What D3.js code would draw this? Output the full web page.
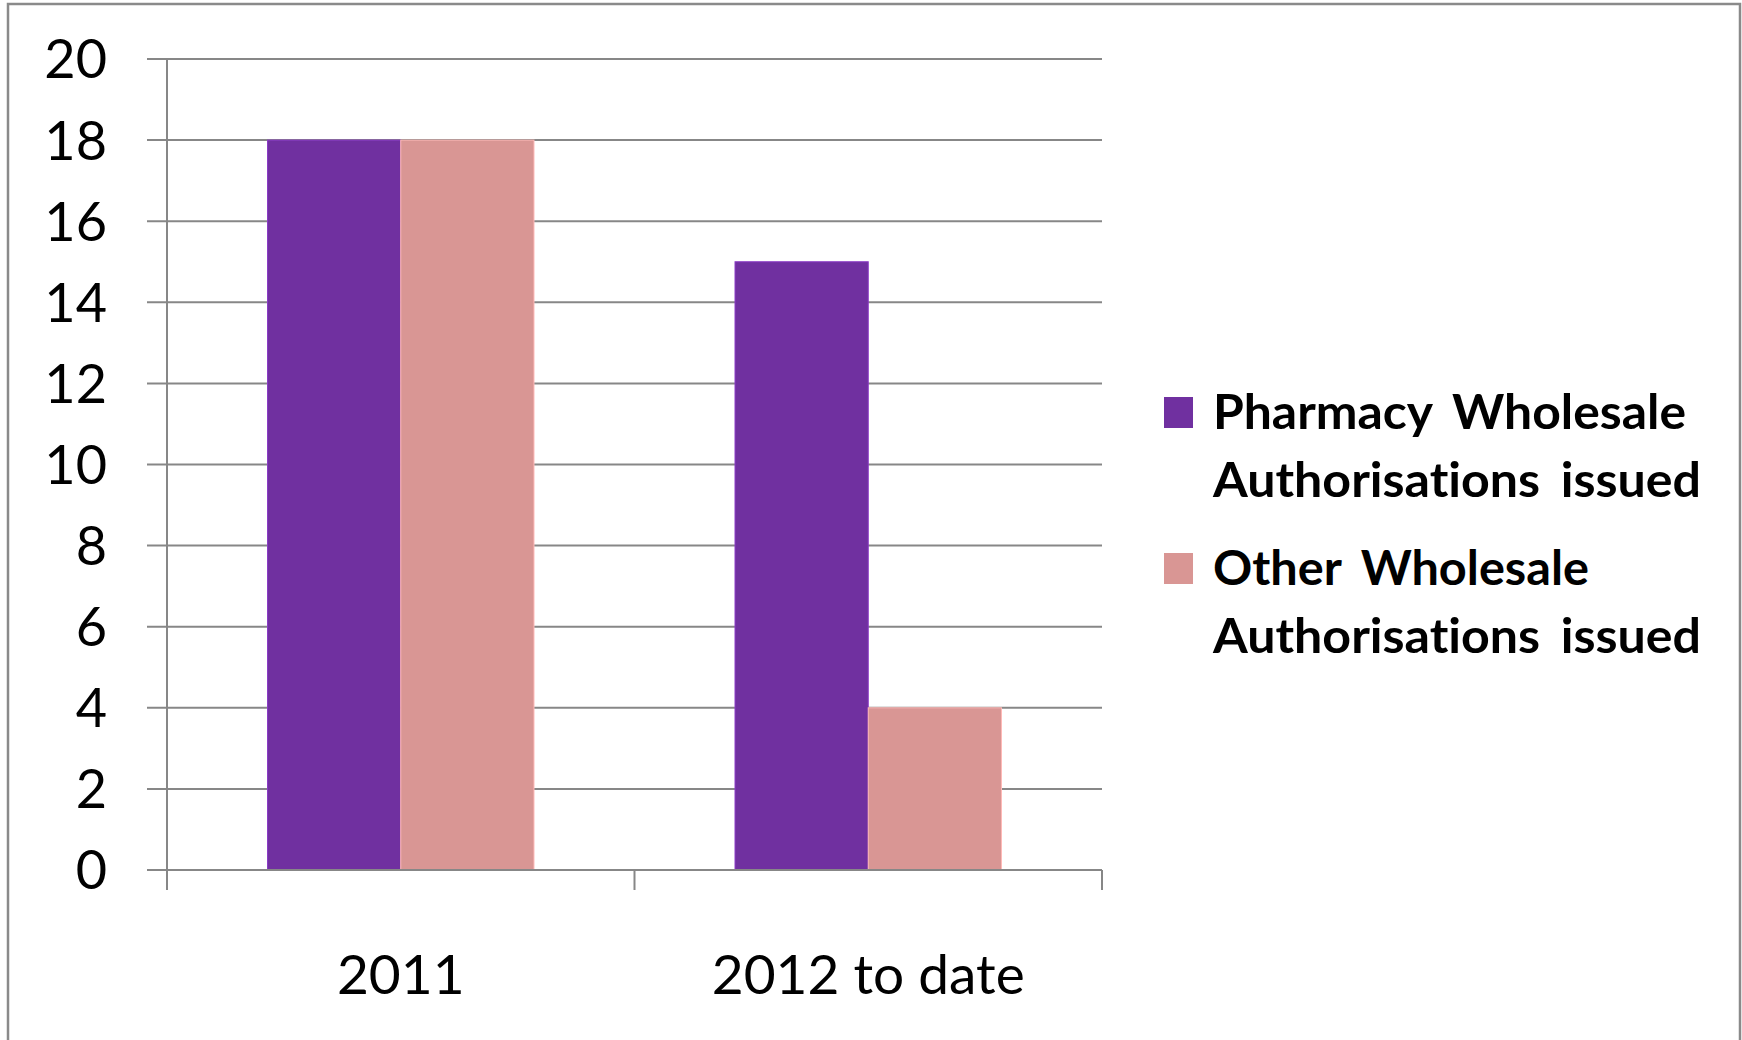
<!DOCTYPE html>
<html>
<head>
<meta charset="utf-8">
<script src="https://cdn.jsdelivr.net/npm/d3@7"></script>
<style>
  html, body { margin: 0; padding: 0; background: #ffffff; }
  svg { display: block; }
  text { font-variant-ligatures: none; font-feature-settings: "liga" 0, "clig" 0; }
</style>
</head>
<body>
<svg id="chart" width="1742" height="1040"></svg>
<script>
// Chart data
const categories = ["2011", "2012 to date"];
const seriesNames = ["Pharmacy Wholesale Authorisations issued", "Other Wholesale Authorisations issued"];
const legendLines = [["Pharmacy Wholesale", "Authorisations issued"], ["Other Wholesale", "Authorisations issued"]];
const pharmacyValues = [18, 15];
const otherValues = [18, 4];
const yTicks = [0, 2, 4, 6, 8, 10, 12, 14, 16, 18, 20];

const colors = ["#7030A0", "#D99694"];
const gridColor = "#878787";
const font = "Lato, 'Open Sans', sans-serif";

const svg = d3.select("#chart");

// Outer frame
svg.append("rect")
  .attr("x", 8).attr("y", 4)
  .attr("width", 1732).attr("height", 1060)
  .attr("fill", "#fff")
  .attr("stroke", "#8a8a8a").attr("stroke-width", 2.5);

const plot = { left: 167, right: 1102, top: 59, bottom: 870 };

const x = d3.scaleBand()
  .domain(categories)
  .range([plot.left, plot.right])
  .paddingInner(0.43)
  .paddingOuter(0.215);

const xSeries = d3.scaleBand()
  .domain(seriesNames)
  .range([0, x.bandwidth()]);

const y = d3.scaleLinear()
  .domain([0, 20])
  .range([plot.bottom, plot.top]);

// Horizontal gridlines with outward tick stubs
svg.append("g")
  .selectAll("line")
  .data(yTicks)
  .join("line")
  .attr("x1", plot.left - 20)
  .attr("x2", plot.right)
  .attr("y1", d => y(d))
  .attr("y2", d => y(d))
  .attr("stroke", gridColor)
  .attr("stroke-width", 2);

// Y tick labels
svg.append("g")
  .selectAll("text")
  .data(yTicks)
  .join("text")
  .attr("x", 107)
  .attr("y", d => y(d))
  .attr("dy", "0.36em")
  .attr("text-anchor", "end")
  .attr("font-family", font)
  .attr("font-size", 54)
  .attr("fill", "#000")
  .text(d => d);

// Bars
const data = categories.map((c, i) => ({ cat: c, values: [pharmacyValues[i], otherValues[i]] }));
const groups = svg.append("g")
  .selectAll("g")
  .data(data)
  .join("g")
  .attr("transform", d => `translate(${x(d.cat)},0)`);

groups.selectAll("rect")
  .data(d => d.values.map((v, j) => ({ v, name: seriesNames[j], j })))
  .join("rect")
  .attr("x", d => xSeries(d.name))
  .attr("y", d => y(d.v))
  .attr("width", xSeries.bandwidth())
  .attr("height", d => y(0) - y(d.v))
  .attr("fill", d => colors[d.j])
  .attr("stroke", d => d3.color(colors[d.j]).brighter(0.6))
  .attr("stroke-width", 1);

// Y axis line
svg.append("line")
  .attr("x1", plot.left).attr("x2", plot.left)
  .attr("y1", plot.top).attr("y2", plot.bottom + 20)
  .attr("stroke", gridColor).attr("stroke-width", 2);

// X axis line and category boundary ticks
svg.append("line")
  .attr("x1", plot.left - 20).attr("x2", plot.right)
  .attr("y1", plot.bottom).attr("y2", plot.bottom)
  .attr("stroke", gridColor).attr("stroke-width", 2);

const step = x.step();
const boundaries = d3.range(categories.length + 1).map(i => plot.left + i * step);
svg.append("g")
  .selectAll("line")
  .data(boundaries)
  .join("line")
  .attr("x1", d => d).attr("x2", d => d)
  .attr("y1", plot.bottom).attr("y2", plot.bottom + 20)
  .attr("stroke", gridColor).attr("stroke-width", 2);

// Category labels
svg.append("g")
  .selectAll("text")
  .data(categories)
  .join("text")
  .attr("x", d => x(d) + x.bandwidth() / 2)
  .attr("y", 994)
  .attr("text-anchor", "middle")
  .attr("font-family", font)
  .attr("font-size", 55)
  .attr("fill", "#000")
  .text(d => d);

// Legend
const legend = svg.append("g");
const legendY = [397, 553];
const legendWidths = [[473, 488], [376, 488]];
seriesNames.forEach((name, i) => {
  legend.append("rect")
    .attr("x", 1164).attr("y", legendY[i])
    .attr("width", 29).attr("height", 31)
    .attr("fill", colors[i]);
  legendLines[i].forEach((line, k) => {
    legend.append("text")
      .attr("x", 1213)
      .attr("y", legendY[i] + 32 + k * 68)
      .attr("font-family", font)
      .attr("font-weight", "bold")
      .attr("font-size", 47)
      .attr("word-spacing", 8)
      .attr("fill", "#000")
      .attr("textLength", legendWidths[i][k])
      .attr("lengthAdjust", "spacingAndGlyphs")
      .text(line);
  });
});
</script>
</body>
</html>
